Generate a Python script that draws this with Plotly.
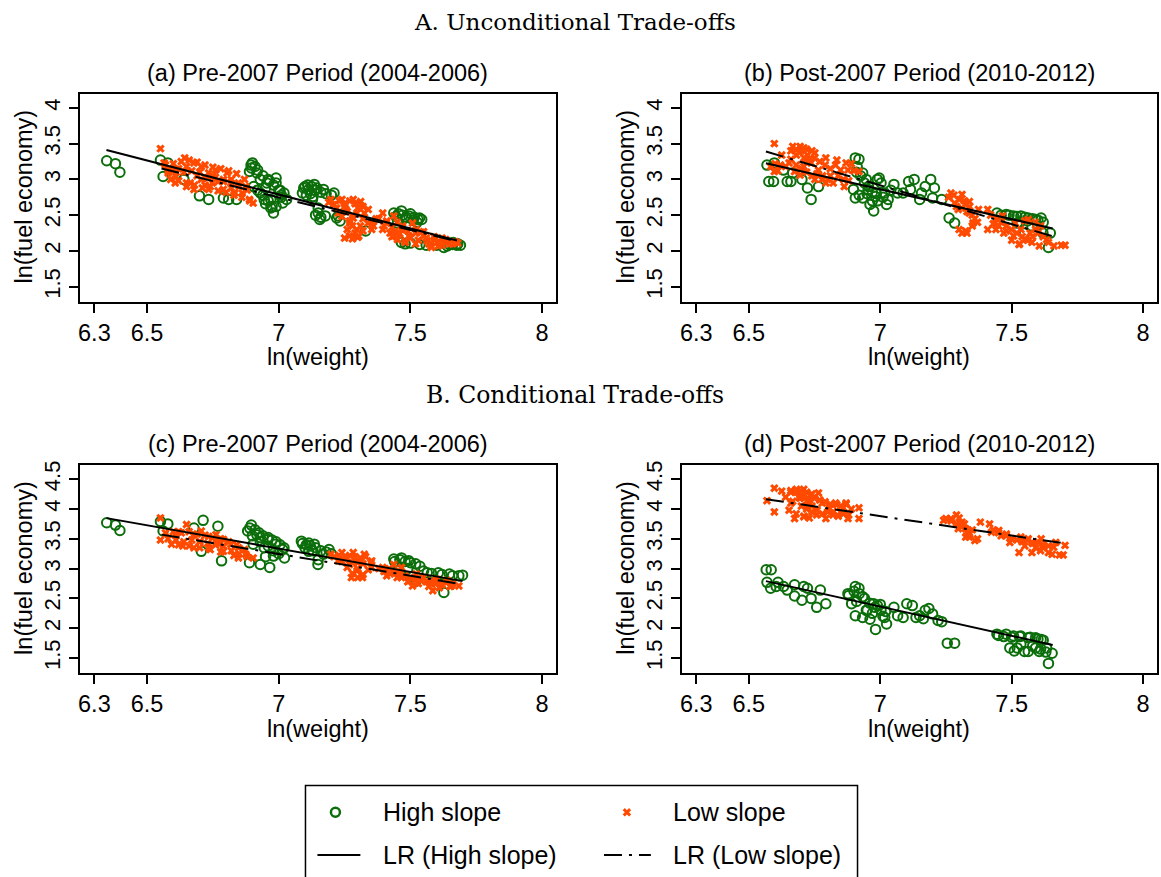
import plotly.graph_objects as go

W, H = 1161, 877

GREEN = "#0B6E0B"
ORANGE = "#FF4A00"

# ---------------- data ----------------
# Panel (a): unconditional, 2004-2006
a_hi_x = [6.347, 6.380, 6.397, 6.551, 6.579, 6.561, 6.640, 6.699, 6.734, 6.790, 6.810, 6.840,
          6.900, 6.889, 6.930, 6.960, 6.990, 6.930, 6.970, 6.980, 7.015, 7.020, 6.990, 6.945, 6.917, 6.896,
          6.905, 6.950, 6.975, 7.005,
          7.100, 7.135, 7.170, 7.210, 7.090, 7.128, 7.150, 7.156, 7.177, 7.226, 7.233, 7.114, 7.120, 7.145,
          7.437, 7.466, 7.494, 7.529, 7.543, 7.451, 7.480, 7.510,
          7.330, 7.466, 7.536, 7.627, 7.662, 7.690, 7.676, 7.648]
a_hi_y = [3.26, 3.22, 3.10, 3.27, 3.23, 3.04, 3.00, 2.77, 2.72, 2.74, 2.72, 2.72,
          3.23, 3.11, 3.00, 3.00, 3.02, 2.81, 2.72, 2.53, 2.67, 2.81, 2.95, 2.72, 3.09, 3.16,
          2.90, 2.88, 2.62, 2.85,
          2.90, 2.93, 2.86, 2.81, 2.81, 2.72, 2.53, 2.44, 2.49, 2.49, 2.42, 2.86, 2.80, 2.88,
          2.53, 2.56, 2.49, 2.44, 2.44, 2.39, 2.46, 2.43,
          2.28, 2.12, 2.09, 2.05, 2.12, 2.08, 2.08, 2.09]
a_hi_more = [(6.895, 3.20), (6.91, 3.18), (6.92, 3.13), (6.94, 3.05), (6.955, 2.95), (6.965, 2.98),
             (6.98, 2.92), (7.00, 2.85), (7.01, 2.78), (6.92, 2.85), (6.94, 2.78), (6.96, 2.70),
             (6.99, 2.62), (7.01, 2.75), (7.03, 2.72), (6.97, 2.60), (6.95, 2.66),
             (7.095, 2.88), (7.11, 2.92), (7.125, 2.90), (7.14, 2.85), (7.16, 2.82), (7.18, 2.80),
             (7.20, 2.78), (7.105, 2.78), (7.13, 2.76), (7.15, 2.60), (7.14, 2.50), (7.16, 2.47),
             (7.22, 2.46), (7.445, 2.48), (7.455, 2.52), (7.47, 2.50), (7.485, 2.47), (7.50, 2.52),
             (7.515, 2.47), (7.525, 2.40), (7.535, 2.46), (7.48, 2.10), (7.50, 2.11), (7.56, 2.08),
             (7.60, 2.08), (7.64, 2.07), (7.66, 2.09), (7.68, 2.10)]
a_lo_x = [6.551, 6.565, 6.580, 6.610, 6.643, 6.650, 6.678, 6.664, 6.706, 6.706, 6.734, 6.748, 6.760,
          6.790, 6.804, 6.818, 6.847, 6.861, 6.889, 6.903, 6.832, 6.790, 6.734, 6.678, 6.650, 6.607, 6.875,
          6.620, 6.690, 6.720, 6.770, 6.820, 6.750, 6.600,
          7.198, 7.240, 7.283, 7.311, 7.255, 7.297, 7.325, 7.269, 7.297, 7.269, 7.304, 7.339, 7.353,
          7.226, 7.283, 7.250, 7.320, 7.280,
          7.395, 7.409, 7.423, 7.437, 7.466, 7.494, 7.522, 7.550, 7.564, 7.592, 7.606, 7.634, 7.578,
          7.480, 7.451, 7.395, 7.508, 7.437, 7.540, 7.620, 7.660, 7.680, 7.470]
a_lo_y = [3.43, 3.23, 3.09, 3.04, 3.30, 3.18, 3.23, 2.95, 3.18, 3.00, 3.09, 2.95, 3.13,
          3.00, 3.09, 2.95, 2.95, 2.81, 2.72, 2.67, 2.81, 2.86, 2.86, 2.86, 2.95, 2.95, 2.90,
          3.15, 3.05, 2.92, 2.97, 2.88, 3.05, 3.12,
          2.72, 2.72, 2.72, 2.69, 2.58, 2.53, 2.53, 2.39, 2.30, 2.21, 2.21, 2.39, 2.30,
          2.53, 2.46, 2.62, 2.62, 2.35,
          2.53, 2.39, 2.25, 2.21, 2.30, 2.21, 2.30, 2.21, 2.14, 2.16, 2.07, 2.16, 2.07,
          2.12, 2.16, 2.30, 2.39, 2.49, 2.26, 2.12, 2.10, 2.11, 2.35]
a_lo_more = [(6.57, 3.20), (6.60, 3.22), (6.63, 3.25), (6.66, 3.27), (6.69, 3.24), (6.72, 3.20),
             (6.75, 3.17), (6.78, 3.15), (6.81, 3.12), (6.84, 3.08), (6.87, 3.00),
             (6.58, 3.12), (6.61, 3.14), (6.64, 3.10), (6.67, 3.12), (6.70, 3.10), (6.73, 3.02),
             (6.76, 3.03), (6.79, 2.97), (6.82, 3.00), (6.85, 2.90), (6.88, 2.85),
             (6.59, 3.00), (6.62, 2.98), (6.65, 2.90), (6.68, 2.92), (6.71, 2.88), (6.74, 2.90),
             (6.77, 2.84), (6.80, 2.82), (6.83, 2.78), (6.86, 2.75), (6.89, 2.70),
             (7.19, 2.68), (7.21, 2.65), (7.23, 2.70), (7.25, 2.66), (7.27, 2.70), (7.29, 2.66),
             (7.31, 2.64), (7.22, 2.60), (7.26, 2.55), (7.30, 2.60), (7.34, 2.58), (7.24, 2.48),
             (7.28, 2.50), (7.32, 2.45), (7.35, 2.42), (7.27, 2.42), (7.31, 2.35), (7.26, 2.30),
             (7.29, 2.25), (7.32, 2.28), (7.25, 2.18), (7.28, 2.17), (7.30, 2.19), (7.36, 2.35),
             (7.37, 2.45),
             (7.38, 2.45), (7.40, 2.35), (7.41, 2.42), (7.43, 2.33), (7.44, 2.27), (7.46, 2.24),
             (7.45, 2.40), (7.47, 2.33), (7.49, 2.28), (7.50, 2.18), (7.52, 2.25), (7.53, 2.15),
             (7.55, 2.27), (7.56, 2.18), (7.57, 2.10), (7.59, 2.20), (7.60, 2.12), (7.62, 2.08),
             (7.63, 2.13), (7.65, 2.10), (7.67, 2.13), (7.43, 2.20), (7.48, 2.14), (7.52, 2.10),
             (7.58, 2.05), (7.62, 2.18)]
a_hi_fit_x = [6.346, 7.677]
a_hi_fit_y = [3.41, 2.147]
a_lo_fit_x = [6.555, 7.670]
a_lo_fit_y = [3.153, 2.140]

# Panel (b): unconditional, 2010-2012
b_hi_x = [6.569, 6.597, 6.576, 6.594, 6.646, 6.660, 6.702, 6.723, 6.737, 6.765, 6.632, 6.667,
          6.905, 6.919, 6.912, 6.933, 6.947, 6.898, 6.905, 6.933, 6.961, 6.975, 6.989, 6.996, 7.003,
          7.017, 7.024, 6.954, 6.982, 7.052, 7.066,
          7.108, 7.129, 7.115, 7.150, 7.171, 7.192, 7.206, 7.234, 7.199, 7.087, 7.157,
          7.262, 7.283,
          7.444, 7.479, 7.507, 7.535, 7.563, 7.591, 7.612, 7.549, 7.619, 7.647, 7.640, 7.521, 7.577]
b_hi_y = [3.20, 3.23, 2.97, 2.97, 2.97, 2.97, 3.00, 2.88, 2.72, 2.90, 3.13, 3.09,
          3.30, 3.28, 3.18, 3.09, 3.00, 2.86, 2.74, 2.74, 2.65, 2.56, 3.00, 3.02, 2.95,
          2.81, 2.65, 2.86, 2.76, 2.93, 2.81,
          2.97, 3.00, 2.86, 2.72, 2.90, 3.00, 2.88, 2.72, 2.74, 2.81, 2.81,
          2.46, 2.39,
          2.53, 2.51, 2.49, 2.49, 2.46, 2.44, 2.46, 2.25, 2.25, 2.25, 2.05, 2.39, 2.35]
b_hi_more = [(6.91, 3.10), (6.925, 3.05), (6.94, 2.95), (6.955, 2.90), (6.97, 2.82), (6.985, 2.80),
             (6.97, 2.70), (6.99, 2.70), (7.01, 2.75), (7.03, 2.72), (7.04, 2.85), (6.95, 2.80),
             (6.92, 2.78), (7.46, 2.50), (7.49, 2.50), (7.52, 2.48), (7.55, 2.47), (7.58, 2.45),
             (7.60, 2.43), (7.62, 2.40), (7.56, 2.42), (7.53, 2.40), (7.60, 2.36)]
b_lo_x = [6.597, 6.625, 6.597, 6.583,
          6.667, 6.695, 6.709, 6.681, 6.723, 6.751, 6.737, 6.709, 6.695, 6.765, 6.779, 6.793, 6.821,
          6.835, 6.849, 6.870, 6.877, 6.863, 6.919, 6.793, 6.751, 6.653, 6.674, 6.720, 6.810, 6.690,
          7.269, 7.311, 7.283, 7.325, 7.339, 7.297, 7.339, 7.325, 7.311, 7.353, 7.374,
          7.409, 7.409, 7.451, 7.479, 7.507, 7.528, 7.549, 7.577, 7.605, 7.633, 7.661, 7.689, 7.703,
          7.465, 7.514, 7.563, 7.591, 7.535]
b_lo_y = [3.50, 3.34, 3.11, 3.18,
          3.46, 3.46, 3.44, 3.34, 3.34, 3.37, 3.23, 3.18, 3.06, 3.13, 3.00, 2.95, 2.95,
          3.27, 3.13, 3.23, 3.13, 2.90, 3.11, 3.30, 3.00, 3.23, 3.11, 3.28, 3.05, 3.38,
          2.81, 2.79, 2.67, 2.65, 2.69, 2.58, 2.53, 2.28, 2.25, 2.39, 2.58,
          2.58, 2.30, 2.35, 2.28, 2.21, 2.09, 2.16, 2.12, 2.07, 2.16, 2.07, 2.08, 2.08,
          2.49, 2.39, 2.44, 2.30, 2.30]
b_lo_more = [(6.66, 3.40), (6.68, 3.42), (6.70, 3.40), (6.72, 3.42), (6.74, 3.40), (6.71, 3.30),
             (6.73, 3.28), (6.75, 3.30), (6.77, 3.25), (6.79, 3.20), (6.81, 3.15), (6.83, 3.20),
             (6.68, 3.20), (6.70, 3.15), (6.72, 3.10), (6.74, 3.05), (6.76, 3.08), (6.78, 3.05),
             (6.80, 3.00), (6.84, 3.05), (6.86, 3.00), (6.88, 2.98), (6.89, 3.22), (6.90, 3.12),
             (6.66, 3.28), (6.64, 3.18), (6.62, 3.20), (6.60, 3.22), (6.61, 3.12),
             (7.26, 2.75), (7.28, 2.78), (7.30, 2.72), (7.32, 2.70), (7.29, 2.62), (7.31, 2.60),
             (7.33, 2.55), (7.35, 2.50), (7.36, 2.45), (7.34, 2.62), (7.37, 2.40), (7.30, 2.30),
             (7.33, 2.25), (7.35, 2.35),
             (7.42, 2.50), (7.44, 2.45), (7.46, 2.40), (7.48, 2.35), (7.50, 2.30), (7.52, 2.25),
             (7.54, 2.20), (7.56, 2.15), (7.58, 2.20), (7.60, 2.25), (7.62, 2.20), (7.64, 2.12),
             (7.44, 2.30), (7.47, 2.25), (7.50, 2.15), (7.53, 2.10), (7.57, 2.25), (7.61, 2.35),
             (7.59, 2.40), (7.55, 2.42), (7.43, 2.38)]
b_hi_fit_x = [6.565, 7.656]
b_hi_fit_y = [3.226, 2.314]
b_lo_fit_x = [6.565, 7.670]
b_lo_fit_y = [3.389, 2.190]

# Panel (c): conditional, 2004-2006
c_hi_x = [6.347, 6.380, 6.397, 6.551, 6.579, 6.561, 6.713, 6.769, 6.783, 6.678, 6.706,
          6.896, 6.882, 6.917, 6.930, 6.959, 6.987, 7.015, 7.022, 6.889, 6.930, 6.966, 6.980, 6.945, 6.903,
          7.086, 7.114, 7.135, 7.114, 7.149, 7.170, 7.191, 7.100,
          7.437, 7.466, 7.494, 7.536, 7.564, 7.606, 7.648, 7.684, 7.698, 7.627, 7.451, 7.522]
c_hi_y = [3.77, 3.73, 3.64, 3.79, 3.75, 3.63, 3.81, 3.71, 3.13, 3.68, 3.29,
          3.73, 3.63, 3.57, 3.52, 3.49, 3.41, 3.32, 3.18, 3.10, 3.07, 3.02, 3.21, 3.35, 3.41,
          3.46, 3.43, 3.41, 3.29, 3.07, 3.24, 3.32, 3.35,
          3.16, 3.18, 3.13, 3.04, 2.93, 2.93, 2.91, 2.88, 2.89, 2.60, 2.96, 2.79]
c_hi_more = [(6.89, 3.68), (6.91, 3.65), (6.925, 3.60), (6.94, 3.55), (6.96, 3.52), (6.975, 3.48),
             (6.99, 3.45), (7.005, 3.40), (7.02, 3.35), (6.90, 3.55), (6.93, 3.45), (6.96, 3.38),
             (6.98, 3.30), (7.00, 3.25), (6.95, 3.20),
             (7.09, 3.42), (7.105, 3.40), (7.12, 3.38), (7.14, 3.35), (7.16, 3.30), (7.18, 3.28),
             (7.20, 3.25), (7.13, 3.30), (7.15, 3.15),
             (7.44, 3.12), (7.46, 3.15), (7.48, 3.12), (7.50, 3.10), (7.52, 3.08), (7.55, 2.96),
             (7.58, 2.92), (7.62, 2.90), (7.66, 2.88), (7.49, 3.00)]
c_lo_x = [6.551, 6.551, 6.650, 6.607, 6.636, 6.678, 6.706, 6.734, 6.762, 6.790, 6.818, 6.847,
          6.875, 6.903, 6.734, 6.790, 6.847, 6.678, 6.593, 6.776, 6.620, 6.700, 6.760,
          7.198, 7.240, 7.283, 7.325, 7.353, 7.269, 7.297, 7.276, 7.318, 7.353, 7.226, 7.260, 7.300,
          7.395, 7.423, 7.466, 7.494, 7.508, 7.550, 7.578, 7.585, 7.613, 7.655, 7.684, 7.437, 7.466,
          7.522, 7.600, 7.640]
c_lo_y = [3.85, 3.48, 3.74, 3.57, 3.38, 3.57, 3.63, 3.54, 3.57, 3.49, 3.41, 3.35,
          3.24, 3.18, 3.35, 3.29, 3.18, 3.35, 3.41, 3.41, 3.62, 3.45, 3.46,
          3.24, 3.27, 3.27, 3.24, 3.13, 3.07, 2.96, 2.85, 2.85, 3.02, 3.13, 3.18, 3.10,
          3.02, 2.91, 2.85, 2.79, 2.71, 2.85, 2.74, 2.63, 2.74, 2.71, 2.71, 3.07, 3.02,
          2.91, 2.82, 2.80]
c_lo_more = [(6.57, 3.60), (6.60, 3.62), (6.63, 3.60), (6.66, 3.62), (6.69, 3.58), (6.72, 3.56),
             (6.75, 3.52), (6.78, 3.50), (6.81, 3.45), (6.84, 3.40), (6.87, 3.32),
             (6.58, 3.50), (6.61, 3.48), (6.64, 3.45), (6.67, 3.48), (6.70, 3.45), (6.73, 3.42),
             (6.76, 3.40), (6.79, 3.38), (6.82, 3.30), (6.85, 3.25), (6.88, 3.20),
             (6.62, 3.40), (6.66, 3.38), (6.70, 3.35), (6.74, 3.32), (6.78, 3.28), (6.83, 3.22),
             (7.21, 3.20), (7.23, 3.22), (7.25, 3.20), (7.27, 3.22), (7.29, 3.20), (7.31, 3.18),
             (7.33, 3.20), (7.24, 3.12), (7.28, 3.10), (7.32, 3.08), (7.35, 3.10), (7.26, 3.02),
             (7.30, 3.00), (7.34, 2.98), (7.28, 2.92), (7.32, 2.90), (7.30, 2.85),
             (7.38, 3.00), (7.40, 2.95), (7.42, 3.00), (7.44, 2.95), (7.46, 2.92), (7.48, 2.88),
             (7.50, 2.85), (7.52, 2.82), (7.54, 2.80), (7.56, 2.78), (7.58, 2.80), (7.60, 2.76),
             (7.62, 2.73), (7.64, 2.78), (7.66, 2.75), (7.41, 2.88), (7.45, 2.85), (7.49, 2.78),
             (7.53, 2.75), (7.57, 2.70), (7.61, 2.68), (7.65, 2.70)]
c_hi_fit_x = [6.346, 7.698]
c_hi_fit_y = [3.847, 2.790]
c_lo_fit_x = [6.555, 7.677]
c_lo_fit_y = [3.570, 2.752]

# Panel (d): conditional, 2010-2012
d_hi_x = [6.566, 6.585, 6.569, 6.583, 6.604, 6.611, 6.632, 6.674, 6.709, 6.723, 6.674, 6.702,
          6.737, 6.758, 6.772, 6.793, 6.646,
          6.877, 6.905, 6.919, 6.891, 6.905, 6.933, 6.947, 6.961, 6.982, 6.989, 7.003, 7.017, 7.024,
          6.933, 7.052, 6.975,
          7.066, 7.101, 7.122, 7.136, 7.150, 7.171, 7.185, 7.199, 7.220, 7.234, 7.255, 7.283, 7.087, 7.164,
          7.444, 7.479, 7.507, 7.535, 7.563, 7.591, 7.612, 7.493, 7.521, 7.549, 7.563, 7.605, 7.633,
          7.640, 7.654, 7.535, 7.591]
d_hi_y = [2.98, 2.98, 2.77, 2.67, 2.70, 2.77, 2.70, 2.73, 2.70, 2.67, 2.54, 2.47,
          2.50, 2.35, 2.64, 2.41, 2.64,
          2.58, 2.70, 2.67, 2.41, 2.21, 2.53, 2.30, 2.15, 1.98, 2.38, 2.30, 2.18, 2.07,
          2.18, 2.35, 2.41,
          2.21, 2.41, 2.38, 2.18, 2.21, 2.30, 2.33, 2.24, 2.13, 2.11, 1.75, 1.75, 2.18, 2.16,
          1.90, 1.90, 1.87, 1.87, 1.84, 1.84, 1.81, 1.67, 1.67, 1.61, 1.61, 1.61, 1.67,
          1.41, 1.58, 1.73, 1.67]
d_hi_more = [(6.88, 2.55), (6.90, 2.62), (6.92, 2.58), (6.94, 2.50), (6.96, 2.42), (6.98, 2.35),
             (7.00, 2.40), (7.02, 2.28), (6.91, 2.45), (6.95, 2.30), (6.97, 2.25), (7.01, 2.20),
             (7.45, 1.88), (7.47, 1.86), (7.50, 1.85), (7.53, 1.86), (7.57, 1.85), (7.60, 1.82),
             (7.62, 1.80), (7.58, 1.70), (7.61, 1.65), (7.63, 1.60), (7.51, 1.62)]
d_lo_x = [6.597, 6.625, 6.569, 6.597, 6.660, 6.681, 6.709, 6.667, 6.695, 6.723, 6.674, 6.709,
          6.737, 6.765, 6.779, 6.807, 6.835, 6.849, 6.877, 6.870, 6.919, 6.919, 6.653, 6.758, 6.793,
          6.700, 6.740, 6.820, 6.860,
          7.241, 7.269, 7.290, 7.311, 7.297, 7.325, 7.339, 7.360, 7.325, 7.381,
          7.416, 7.423, 7.451, 7.479, 7.493, 7.528, 7.535, 7.563, 7.577, 7.577, 7.612, 7.619, 7.640,
          7.654, 7.682, 7.696, 7.703, 7.668, 7.591]
d_lo_y = [4.35, 4.30, 4.14, 3.95, 4.31, 4.33, 4.33, 4.13, 4.18, 4.07, 3.84, 3.87,
          4.24, 4.27, 4.10, 4.01, 4.07, 3.95, 3.84, 4.10, 4.02, 3.84, 3.98, 3.90, 3.84,
          4.22, 4.05, 3.95, 4.02,
          3.81, 3.84, 3.90, 3.78, 3.67, 3.67, 3.53, 3.47, 3.53, 3.78,
          3.75, 3.61, 3.64, 3.55, 3.44, 3.27, 3.53, 3.50, 3.44, 3.27, 3.50, 3.35, 3.27,
          3.24, 3.23, 3.23, 3.39, 3.44, 3.35]
d_lo_more = [(6.66, 4.28), (6.68, 4.28), (6.70, 4.30), (6.72, 4.28), (6.74, 4.25), (6.69, 4.20),
             (6.71, 4.18), (6.73, 4.15), (6.75, 4.18), (6.77, 4.15), (6.79, 4.12), (6.81, 4.08),
             (6.83, 4.10), (6.85, 4.05), (6.87, 4.08), (6.89, 4.00), (6.70, 4.05), (6.72, 4.00),
             (6.74, 3.95), (6.76, 3.98), (6.78, 3.92), (6.80, 3.95), (6.82, 3.90), (6.84, 3.88),
             (6.86, 3.92), (6.88, 3.90), (6.68, 3.92), (6.71, 3.88), (6.73, 3.85), (6.66, 4.10),
             (6.64, 4.20),
             (7.25, 3.84), (7.27, 3.80), (7.29, 3.75), (7.30, 3.85), (7.31, 3.70), (7.32, 3.75),
             (7.33, 3.62), (7.34, 3.58), (7.35, 3.65), (7.37, 3.50), (7.43, 3.65), (7.45, 3.60),
             (7.46, 3.55), (7.48, 3.58), (7.50, 3.50), (7.52, 3.48), (7.54, 3.45), (7.56, 3.48),
             (7.58, 3.42), (7.60, 3.45), (7.62, 3.40), (7.64, 3.38), (7.66, 3.36), (7.55, 3.38),
             (7.61, 3.30)]
d_hi_fit_x = [6.565, 7.656]
d_hi_fit_y = [2.790, 1.720]
d_lo_fit_x = [6.565, 7.690]
d_lo_fit_y = [4.164, 3.430]

x_ticks = [6.3, 6.5, 7, 7.5, 8]
x_tick_text = ["6.3", "6.5", "7", "7.5", "8"]
y_ticks_top = [1.5, 2, 2.5, 3, 3.5, 4]
y_ticks_bottom = [1.5, 2, 2.5, 3, 3.5, 4, 4.5]

panel_titles = ["(a) Pre-2007 Period (2004-2006)", "(b) Post-2007 Period (2010-2012)",
                "(c) Pre-2007 Period (2004-2006)", "(d) Post-2007 Period (2010-2012)"]
section_titles = ["A. Unconditional Trade-offs", "B. Conditional Trade-offs"]
legend_labels = ["High slope", "Low slope", "LR (High slope)", "LR (Low slope)"]


def merged(xs, ys, extra):
    """Join a series held as x/y lists with extra (x, y) pairs."""
    return list(xs) + [p[0] for p in extra], list(ys) + [p[1] for p in extra]


# ---------------- layout helpers ----------------
def px(x):
    return x / W


def py(y):
    return 1 - y / H


SANS = "Liberation Sans, Arial, sans-serif"
SERIF = "DejaVu Serif, serif"
LO_DASH = "18px,7px,3px,7px"
TXT = 23.5

panels = [
    dict(hi=merged(a_hi_x, a_hi_y, a_hi_more), lo=merged(a_lo_x, a_lo_y, a_lo_more),
         fits=(a_hi_fit_x, a_hi_fit_y, a_lo_fit_x, a_lo_fit_y),
         box=(78, 555, 90, 299), yr=[1.292, 4.199], yt=y_ticks_top),
    dict(hi=merged(b_hi_x, b_hi_y, b_hi_more), lo=merged(b_lo_x, b_lo_y, b_lo_more),
         fits=(b_hi_fit_x, b_hi_fit_y, b_lo_fit_x, b_lo_fit_y),
         box=(681, 1157, 90, 299), yr=[1.292, 4.199], yt=y_ticks_top),
    dict(hi=merged(c_hi_x, c_hi_y, c_hi_more), lo=merged(c_lo_x, c_lo_y, c_lo_more),
         fits=(c_hi_fit_x, c_hi_fit_y, c_lo_fit_x, c_lo_fit_y),
         box=(78, 555, 463, 672), yr=[1.25, 4.74], yt=y_ticks_bottom),
    dict(hi=merged(d_hi_x, d_hi_y, d_hi_more), lo=merged(d_lo_x, d_lo_y, d_lo_more),
         fits=(d_hi_fit_x, d_hi_fit_y, d_lo_fit_x, d_lo_fit_y),
         box=(681, 1157, 463, 672), yr=[1.25, 4.74], yt=y_ticks_bottom),
]

fig = go.Figure()
layout = {}
annotations = []

hi_marker = dict(symbol="circle-open", size=9.5, color=GREEN, line=dict(width=2, color=GREEN))
lo_marker = dict(symbol="x", size=7.5, color=ORANGE, line=dict(width=0))

for i, p in enumerate(panels):
    n = "" if i == 0 else str(i + 1)
    xa, ya = "x" + n, "y" + n
    hx, hy = p["hi"]
    lx, ly = p["lo"]
    hfx, hfy, lfx, lfy = p["fits"]
    fig.add_trace(go.Scatter(x=hx, y=hy, mode="markers", marker=hi_marker, xaxis=xa, yaxis=ya,
                             showlegend=False))
    fig.add_trace(go.Scatter(x=lx, y=ly, mode="markers", marker=lo_marker, xaxis=xa, yaxis=ya,
                             showlegend=False))
    fig.add_trace(go.Scatter(x=hfx, y=hfy, mode="lines", line=dict(color="black", width=2),
                             xaxis=xa, yaxis=ya, showlegend=False))
    fig.add_trace(go.Scatter(x=lfx, y=lfy, mode="lines",
                             line=dict(color="black", width=2, dash=LO_DASH),
                             xaxis=xa, yaxis=ya, showlegend=False))
    x0, x1, y0, y1 = p["box"]
    layout["xaxis" + n] = dict(
        domain=[px(x0), px(x1)], range=[6.245, 8.053], anchor=ya,
        tickvals=x_ticks, ticktext=x_tick_text, ticks="outside", ticklen=9, tickwidth=1.5,
        tickcolor="black", showline=True, linewidth=2, linecolor="black", mirror=True,
        showgrid=False, zeroline=False, tickfont=dict(family=SANS, size=TXT, color="black"))
    layout["yaxis" + n] = dict(
        domain=[py(y1), py(y0)], range=p["yr"], anchor=xa,
        tickvals=p["yt"], ticktext=[("%g" % v) for v in p["yt"]], ticks="outside", ticklen=9,
        tickwidth=1.5, tickcolor="black", tickangle=-90, showline=True, linewidth=2,
        linecolor="black", mirror=True, showgrid=False, zeroline=False,
        tickfont=dict(family=SANS, size=22, color="black"))
    cx = (x0 + x1) / 2
    annotations.append(dict(text=panel_titles[i], x=px(cx), y=py(y0 - 21), xref="paper",
                            yref="paper", showarrow=False, xanchor="center", yanchor="middle",
                            font=dict(family=SANS, size=TXT, color="black")))
    annotations.append(dict(text="ln(weight)", x=px(cx), y=py(y1 + 56), xref="paper", yref="paper",
                            showarrow=False, xanchor="center", yanchor="middle",
                            font=dict(family=SANS, size=TXT, color="black")))
    annotations.append(dict(text="ln(fuel economy)", x=px(x0 - 56), y=py((y0 + y1) / 2 - 1),
                            xref="paper", yref="paper", showarrow=False, textangle=-90,
                            xanchor="center", yanchor="middle",
                            font=dict(family=SANS, size=TXT, color="black")))

annotations.append(dict(text=section_titles[0], x=px(574), y=py(18), xref="paper", yref="paper",
                        showarrow=False, xanchor="center", yanchor="middle",
                        font=dict(family=SERIF, size=23, color="black")))
annotations.append(dict(text=section_titles[1], x=px(574), y=py(393), xref="paper", yref="paper",
                        showarrow=False, xanchor="center", yanchor="middle",
                        font=dict(family=SERIF, size=23.5, color="black")))

# ---------------- legend box (own pixel-unit axes below the panels) ----------------
LEG_TOP = 770
layout["xaxis5"] = dict(domain=[0, 1], range=[0, W], visible=False, anchor="y5", fixedrange=True)
layout["yaxis5"] = dict(domain=[0, py(LEG_TOP)], range=[H, LEG_TOP], visible=False, anchor="x5",
                        fixedrange=True)
fig.add_trace(go.Scatter(x=[334], y=[812], mode="markers", xaxis="x5", yaxis="y5",
                         marker=dict(symbol="circle-open", size=9, color=GREEN,
                                     line=dict(width=2.5, color=GREEN)), showlegend=False))
fig.add_trace(go.Scatter(x=[626], y=[812], mode="markers", xaxis="x5", yaxis="y5",
                         marker=dict(symbol="x", size=7.5, color=ORANGE, line=dict(width=0)),
                         showlegend=False))
fig.add_trace(go.Scatter(x=[316, 359], y=[855, 855], mode="lines", xaxis="x5", yaxis="y5",
                         line=dict(color="black", width=2), showlegend=False))
fig.add_trace(go.Scatter(x=[603, 650], y=[855, 855], mode="lines", xaxis="x5", yaxis="y5",
                         line=dict(color="black", width=2, dash=LO_DASH), showlegend=False))
legend_pos = [(380, 812), (670, 812), (380, 855), (670, 855)]
for lab, (lx_, ly_) in zip(legend_labels, legend_pos):
    annotations.append(dict(text=lab, x=px(lx_), y=py(ly_), xref="paper", yref="paper",
                            showarrow=False, xanchor="left", yanchor="middle",
                            font=dict(family=SANS, size=25, color="black")))

shapes = [dict(type="rect", xref="paper", yref="paper", x0=px(304), x1=px(857), y0=py(885),
               y1=py(785), line=dict(color="black", width=1.5))]

fig.update_layout(width=W, height=H, margin=dict(l=0, r=0, t=0, b=0),
                  plot_bgcolor="rgba(0,0,0,0)", paper_bgcolor="white",
                  annotations=annotations, shapes=shapes, **layout)

fig.write_html("out.html")
